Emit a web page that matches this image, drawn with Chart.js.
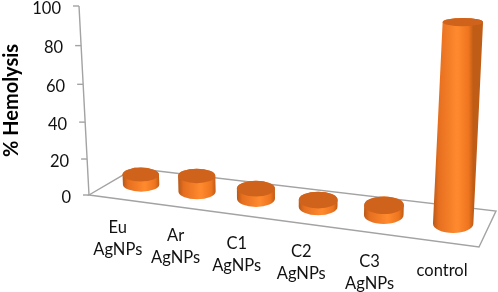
<!DOCTYPE html>
<html>
<head>
<meta charset="utf-8">
<script src="https://cdn.jsdelivr.net/npm/chart.js@4"></script>
<style>
  html, body { margin: 0; padding: 0; background: #fff; }
  #wrap { position: relative; width: 498px; height: 292px; }
</style>
</head>
<body>
<div id="wrap"><canvas id="chart1"></canvas></div>
<script>
const categories = [['Eu', 'AgNPs'], ['Ar', 'AgNPs'], ['C1', 'AgNPs'], ['C2', 'AgNPs'], ['C3', 'AgNPs'], ['control']];
const hemolysis = [5.5, 8.5, 5.5, 3.5, 5, 97];
const yTicks = [0, 20, 40, 60, 80, 100];

const labelFont = '16.5px Lato';
const gray = '#a3a3a3';

// floor corners of the 3D view: front-left, front-right, back-right, back-left
const floor = [[89, 195], [479, 247], [496, 211], [134.5, 168.3]];

// unit square -> floor quad
function homography(p) {
    const dx1 = p[1][0] - p[2][0], dx2 = p[3][0] - p[2][0], sx = p[0][0] - p[1][0] + p[2][0] - p[3][0];
    const dy1 = p[1][1] - p[2][1], dy2 = p[3][1] - p[2][1], sy = p[0][1] - p[1][1] + p[2][1] - p[3][1];
    const det = dx1 * dy2 - dx2 * dy1;
    const g = (sx * dy2 - dx2 * sy) / det;
    const h = (dx1 * sy - sx * dy1) / det;
    return (u, w) => {
        const d = g * u + h * w + 1;
        return [
            (p[1][0] - p[0][0] + g * p[1][0]) * u / d + (p[3][0] - p[0][0] + h * p[3][0]) * w / d + p[0][0] / d,
            (p[1][1] - p[0][1] + g * p[1][1]) * u / d + (p[3][1] - p[0][1] + h * p[3][1]) * w / d + p[0][1] / d
        ];
    };
}
const onFloor = homography(floor);

// axis height in scale pixels -> height on screen (upper part looks bigger)
function lift(h, plot) {
    return h * (0.94 + 0.06 * h / plot);
}
// verticals lean away from the middle of the picture
function lean(x, h) {
    return (x - 280) * h * 0.000277;
}

function drawCylinder(ctx, u, h) {
    const base = onFloor(u, 0.5);
    const s = 1 + 0.11 * u;
    const sh = h * s;
    const rx = 18 + 2.4 * u;
    const ryB = 7 + 2.7 * u;
    const ryT = Math.max(ryB - 0.027 * sh, 3);
    const bx = base[0] + 1.5, by = base[1];
    const tx = bx + lean(bx, sh), ty = by - sh;

    const grad = ctx.createLinearGradient(bx - rx, 0, bx + rx, 0);
    grad.addColorStop(0, '#b9591a');
    grad.addColorStop(0.14, '#e56f1f');
    grad.addColorStop(0.6, '#ff8a2e');
    grad.addColorStop(0.88, '#ee751f');
    grad.addColorStop(1, '#bf5c16');

    ctx.beginPath();
    ctx.ellipse(bx, by, rx, ryB, 0, Math.PI, 0, true);
    ctx.lineTo(tx + rx, ty);
    ctx.ellipse(tx, ty, rx, ryT, 0, 0, Math.PI, true);
    ctx.closePath();
    ctx.fillStyle = grad;
    ctx.fill();

    ctx.beginPath();
    ctx.ellipse(tx, ty, rx, ryT, 0, 0, Math.PI * 2);
    ctx.fillStyle = '#d0631c';
    ctx.fill();
}

const view3d = {
    id: 'view3d',
    beforeDatasetsDraw(chart) {
        const ctx = chart.ctx, a = chart.chartArea, y = chart.scales.y;
        const plot = a.bottom - a.top;
        ctx.save();
        ctx.strokeStyle = gray;
        ctx.lineWidth = 1.4;
        // floor
        ctx.beginPath();
        floor.forEach((p, i) => i ? ctx.lineTo(p[0], p[1]) : ctx.moveTo(p[0], p[1]));
        ctx.closePath();
        ctx.stroke();
        // value axis with ticks
        ctx.font = labelFont;
        ctx.fillStyle = '#111';
        ctx.textAlign = 'right';
        ctx.textBaseline = 'middle';
        ctx.beginPath();
        yTicks.forEach((v, i) => {
            const h = lift(a.bottom - y.getPixelForValue(v), plot);
            const px = floor[0][0] + lean(floor[0][0], h), py = a.bottom - h;
            i ? ctx.lineTo(px, py) : ctx.moveTo(px, py);
        });
        ctx.stroke();
        yTicks.forEach(v => {
            const h = lift(a.bottom - y.getPixelForValue(v), plot);
            const px = floor[0][0] + lean(floor[0][0], h), py = a.bottom - h;
            ctx.beginPath();
            ctx.moveTo(px - 6, py);
            ctx.lineTo(px, py);
            ctx.stroke();
            ctx.fillText(String(v), px - 18, py + 2.5);
        });
        ctx.restore();
    },
    afterDatasetsDraw(chart) {
        const ctx = chart.ctx, a = chart.chartArea;
        const plot = a.bottom - a.top;
        const bars = chart.getDatasetMeta(0).data;
        ctx.save();
        bars.forEach(bar => {
            const u = (bar.x - a.left) / (a.right - a.left);
            drawCylinder(ctx, u, lift(bar.base - bar.y, plot));
        });
        // category labels follow the front edge of the floor
        ctx.font = labelFont;
        ctx.fillStyle = '#111';
        ctx.textAlign = 'center';
        ctx.textBaseline = 'middle';
        bars.forEach((bar, i) => {
            const u = (bar.x - a.left) / (a.right - a.left);
            const p = onFloor(u, 0);
            categories[i].forEach((line, k) => {
                ctx.fillText(line, p[0] + 1, p[1] + 29 + k * 22);
            });
        });
        ctx.restore();
    }
};

const ctx1 = document.getElementById('chart1').getContext('2d');
new Chart(ctx1, {
    type: 'bar',
    data: {
        labels: categories,
        datasets: [{
            label: '% Hemolysis',
            data: hemolysis,
            backgroundColor: 'rgba(0,0,0,0)'
        }]
    },
    options: {
        responsive: true,
        maintainAspectRatio: false,
        animation: false,
        layout: { padding: { top: 6 } },
        plugins: {
            legend: { display: false },
            tooltip: { enabled: false }
        },
        scales: {
            x: {
                grid: { display: false },
                border: { display: false },
                ticks: { display: false },
                afterFit(scale) { scale.height = 97; }
            },
            y: {
                min: 0,
                max: 100,
                grid: { display: false },
                border: { display: false },
                ticks: { display: false, stepSize: 20 },
                title: {
                    display: true,
                    text: '% Hemolysis',
                    color: '#000',
                    font: { family: 'Lato', size: 20, weight: 'bold' },
                    padding: { top: 0, bottom: 0 }
                },
                afterFit(scale) { scale.width = 89; }
            }
        }
    },
    plugins: [view3d]
});
</script>
</body>
</html>
